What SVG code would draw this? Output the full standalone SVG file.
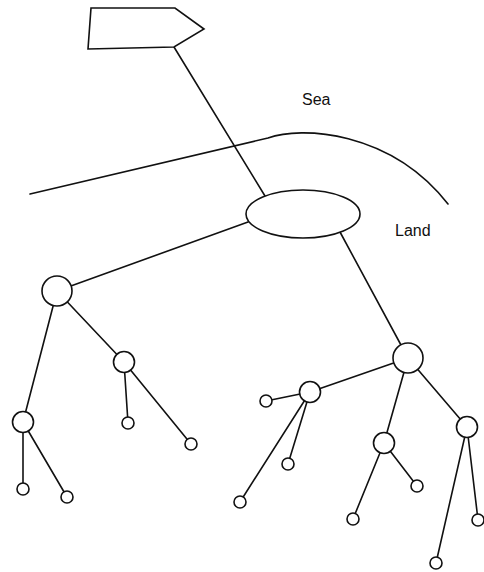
<svg xmlns="http://www.w3.org/2000/svg" width="484" height="572" viewBox="0 0 484 572">
<style>
.ln{stroke:#111;stroke-width:1.6;fill:none;stroke-linecap:round}
.nd{stroke:#111;stroke-width:1.6;fill:#fff}
.lb{font-family:"Liberation Sans",Arial,sans-serif;font-size:16px;fill:#111}
</style>
<rect width="484" height="572" fill="#fff"/>
<g id="coast">
<path class="ln" d="M30,194 L268,138 C300,126 390,130 448,204"/>
</g>
<g id="connectors">
<line class="ln" x1="174" y1="47" x2="265" y2="196"/>
<line class="ln" x1="57" y1="291" x2="248" y2="222"/>
<line class="ln" x1="340" y1="232" x2="408" y2="358"/>
<line class="ln" x1="57" y1="291" x2="23" y2="422"/>
<line class="ln" x1="57" y1="291" x2="124" y2="362"/>
<line class="ln" x1="124" y1="362" x2="128" y2="423"/>
<line class="ln" x1="124" y1="362" x2="191" y2="444"/>
<line class="ln" x1="23" y1="422" x2="23" y2="489"/>
<line class="ln" x1="23" y1="422" x2="67" y2="497"/>
<line class="ln" x1="408" y1="358" x2="310" y2="392"/>
<line class="ln" x1="408" y1="358" x2="384" y2="443"/>
<line class="ln" x1="408" y1="358" x2="467" y2="427"/>
<line class="ln" x1="310" y1="392" x2="266" y2="401"/>
<line class="ln" x1="310" y1="392" x2="240" y2="502"/>
<line class="ln" x1="310" y1="392" x2="288" y2="464"/>
<line class="ln" x1="384" y1="443" x2="353" y2="519"/>
<line class="ln" x1="384" y1="443" x2="417" y2="486"/>
<line class="ln" x1="467" y1="427" x2="436" y2="563"/>
<line class="ln" x1="467" y1="427" x2="478" y2="520"/>
</g>
<g id="ship"><polygon class="nd" points="91,8 175,8 204,29 174,47 88,49"/></g>
<g id="hub"><ellipse class="nd" cx="303" cy="214" rx="57" ry="24"/></g>
<g id="nA"><circle class="nd" cx="57" cy="291" r="15"/></g>
<g id="nB"><circle class="nd" cx="124" cy="362" r="10.5"/></g>
<g id="nC"><circle class="nd" cx="23" cy="422" r="10.5"/></g>
<g id="nB1"><circle class="nd" cx="128" cy="423" r="6"/></g>
<g id="nB2"><circle class="nd" cx="191" cy="444" r="6"/></g>
<g id="nC1"><circle class="nd" cx="23" cy="489" r="6"/></g>
<g id="nC2"><circle class="nd" cx="67" cy="497" r="6"/></g>
<g id="nD"><circle class="nd" cx="408" cy="358" r="15"/></g>
<g id="nE"><circle class="nd" cx="310" cy="392" r="10.5"/></g>
<g id="nF"><circle class="nd" cx="384" cy="443" r="10.5"/></g>
<g id="nG"><circle class="nd" cx="467" cy="427" r="10.5"/></g>
<g id="nE1"><circle class="nd" cx="266" cy="401" r="6"/></g>
<g id="nE2"><circle class="nd" cx="288" cy="464" r="6"/></g>
<g id="nE3"><circle class="nd" cx="240" cy="502" r="6"/></g>
<g id="nF1"><circle class="nd" cx="353" cy="519" r="6"/></g>
<g id="nF2"><circle class="nd" cx="417" cy="486" r="6"/></g>
<g id="nG1"><circle class="nd" cx="436" cy="563" r="6"/></g>
<g id="nG2"><circle class="nd" cx="478" cy="520" r="6"/></g>
<g id="labels">
<text class="lb" x="302" y="105">Sea</text>
<text class="lb" x="395" y="236">Land</text>
</g>
</svg>
